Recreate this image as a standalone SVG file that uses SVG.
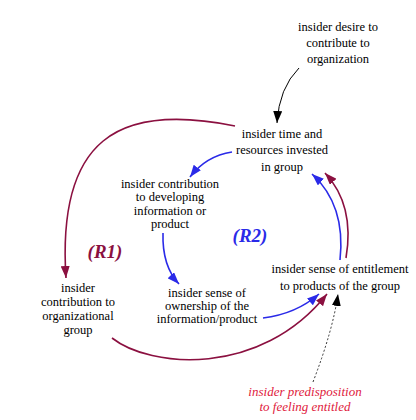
<svg xmlns="http://www.w3.org/2000/svg" width="416" height="420" viewBox="0 0 416 420">
<style>
  .t { font-family: "Liberation Serif", "Times New Roman", serif; font-size: 12.5px; fill: #000; text-anchor: middle; }
  .loop { font-family: "Liberation Serif", "Times New Roman", serif; font-size: 19px; font-weight: bold; font-style: italic; text-anchor: middle; }
  .red { font-family: "Liberation Serif", "Times New Roman", serif; font-size: 13px; font-style: italic; fill: #e0203c; text-anchor: middle; }
  .m { fill: none; stroke: #8b1040; stroke-width: 1.6; }
  .b { fill: none; stroke: #2a2ae8; stroke-width: 1.6; }
  .k { fill: none; stroke: #000; stroke-width: 1; }
  .kd { fill: none; stroke: #000; stroke-width: 0.8; stroke-dasharray: 2 2; }
</style>
<defs>
  <marker id="am" markerUnits="userSpaceOnUse" markerWidth="13" markerHeight="9" refX="12" refY="4.5" orient="auto"><path d="M0,0 L12,4.5 L0,9 z" fill="#8b1040"/></marker>
  <marker id="ab" markerUnits="userSpaceOnUse" markerWidth="13" markerHeight="9" refX="12" refY="4.5" orient="auto"><path d="M0,0 L12,4.5 L0,9 z" fill="#2a2ae8"/></marker>
  <marker id="ak" markerUnits="userSpaceOnUse" markerWidth="13" markerHeight="9" refX="12" refY="4.5" orient="auto"><path d="M0,0 L12,4.5 L0,9 z" fill="#000"/></marker>
</defs>
<rect width="416" height="420" fill="#fff"/>
<g id="connectors">
  <path class="k" d="M299,68 Q279,88 277,123" marker-end="url(#ak)"/>
  <path class="m" d="M235,126 C117,102 57,140 66,278" marker-end="url(#am)"/>
  <path class="b" d="M232,152 Q206,156 190,177" marker-end="url(#ab)"/>
  <path class="b" d="M163,233 Q162,266 179,284" marker-end="url(#ab)"/>
  <path class="b" d="M263,318 Q296,314 319,294" marker-end="url(#ab)"/>
  <path class="m" d="M112,338 C150,368 260,378 327,294" marker-end="url(#am)"/>
  <path class="kd" d="M313,382 Q333,330 338,294" marker-end="url(#ak)"/>
  <path class="b" d="M340,260 Q346,205 312,174" marker-end="url(#ab)"/>
  <path class="m" d="M346,258 Q355,205 325,173" marker-end="url(#am)"/>
</g>
<g id="desire"><text class="t" x="338" y="31">insider desire to</text><text class="t" x="338" y="47">contribute to</text><text class="t" x="338" y="63">organization</text></g>
<g id="time"><text class="t" x="282" y="138">insider time and</text><text class="t" x="282" y="154">resources invested</text><text class="t" x="282" y="171">in group</text></g>
<g id="contribInfo"><text class="t" x="170" y="188">insider contribution</text><text class="t" x="170" y="201">to developing</text><text class="t" x="170" y="215">information or</text><text class="t" x="170" y="228">product</text></g>
<g id="contribOrg"><text class="t" x="78" y="292">insider</text><text class="t" x="78" y="306">contribution to</text><text class="t" x="78" y="320">organizational</text><text class="t" x="78" y="334">group</text></g>
<g id="ownership"><text class="t" x="207" y="297">insider sense of</text><text class="t" x="207" y="310">ownership of the</text><text class="t" x="207" y="323">information/product</text></g>
<g id="entitlement"><text class="t" x="340" y="273">insider sense of entitlement</text><text class="t" x="340" y="290">to products of the group</text></g>
<g id="predisposition"><text class="red" x="305" y="396">insider predisposition</text><text class="red" x="305" y="411">to feeling entitled</text></g>
<g id="R1"><text class="loop" x="105" y="258" fill="#8b1040">(R1)</text></g>
<g id="R2"><text class="loop" x="250" y="242" fill="#2a2ae8">(R2)</text></g>
</svg>
